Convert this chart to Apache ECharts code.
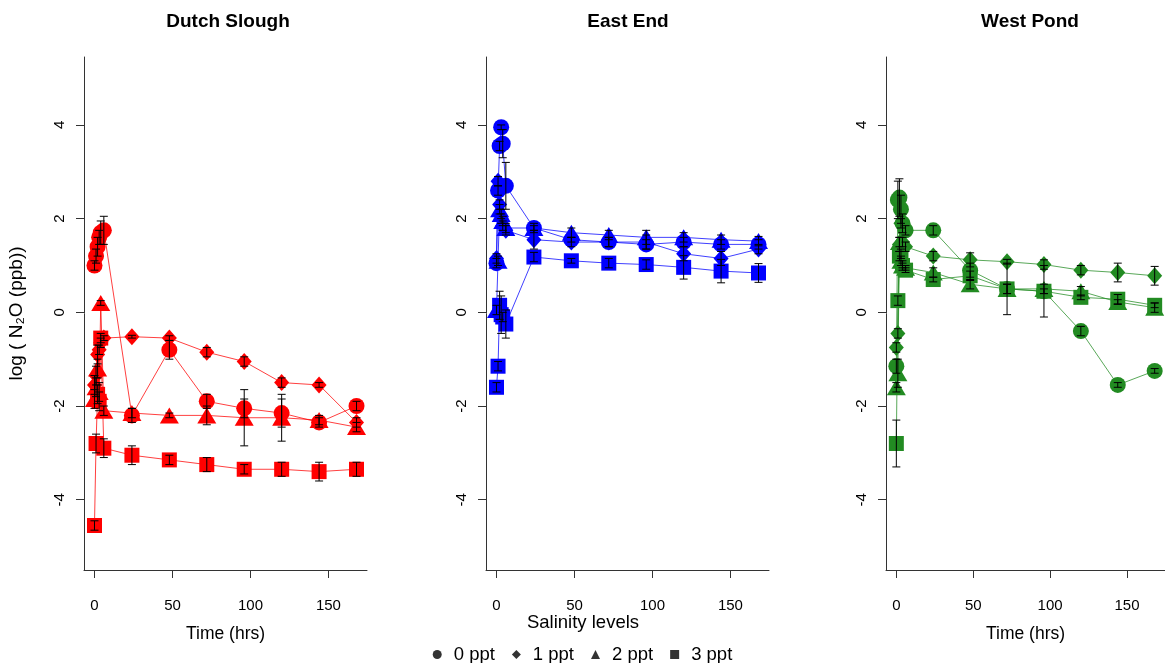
<!DOCTYPE html>
<html>
<head>
<meta charset="utf-8">
<script src="https://cdn.jsdelivr.net/npm/echarts@6/dist/echarts.min.js"></script>
<style>
html,body{margin:0;padding:0;background:#fff;}
#chart{width:1165px;height:663px;}
</style>
</head>
<body>
<div id="chart"></div>
<script>
// ---- data ----
const sites = ["Dutch Slough", "East End", "West Pond"];
const salinity = ["0 ppt", "1 ppt", "2 ppt", "3 ppt"];
const times = [0, 1, 2, 3, 4, 6, 24, 48, 72, 96, 120, 144, 168];
const xTicks = [0, 50, 100, 150];
const yTicks = [-4, -2, 0, 2, 4];

// Dutch Slough: log N2O mean per salinity
const ds0 = [1.0, 1.2, 1.4, 1.6, 1.7, 1.75, -2.2, -0.8, -1.9, -2.05, -2.15, -2.35, -2.0];
const ds1 = [-1.55, -1.35, -0.9, -0.8, -0.65, -0.55, -0.52, -0.55, -0.85, -1.05, -1.5, -1.55, -2.35];
const ds2 = [-1.85, -1.6, -1.2, -1.7, 0.2, -2.1, -2.15, -2.2, -2.2, -2.25, -2.25, -2.3, -2.45];
const ds3 = [-4.55, -2.8, -1.75, -1.9, -0.55, -2.9, -3.05, -3.15, -3.25, -3.35, -3.35, -3.4, -3.35];
const dsE0 = [0.1, 0.15, 0.2, 0.15, 0.25, 0.3, 0.15, 0.2, 0.15, 0.2, 0.3, 0.1, 0.1];
const dsE1 = [0.2, 0.2, 0.2, 0.1, 0.1, 0.05, 0.03, 0.05, 0.1, 0.1, 0.1, 0.05, 0.1];
const dsE2 = [0.2, 0.2, 0.2, 0.2, 0.05, 0.1, 0.1, 0.05, 0.2, 0.6, 0.5, 0.1, 0.1];
const dsE3 = [0.1, 0.2, 0.2, 0.2, 0.1, 0.2, 0.2, 0.1, 0.15, 0.1, 0.15, 0.2, 0.15];

// East End
const ee0 = [1.05, 2.6, 3.55, 3.95, 3.6, 2.7, 1.8, 1.55, 1.5, 1.45, 1.5, 1.45, 1.45];
const ee1 = [1.15, 2.8, 2.3, 2.0, 1.85, 1.75, 1.55, 1.5, 1.5, 1.5, 1.25, 1.15, 1.35];
const ee2 = [0.05, 1.1, 2.2, 2.1, 1.95, 1.8, 1.8, 1.7, 1.65, 1.6, 1.6, 1.55, 1.52];
const ee3 = [-1.6, -1.15, 0.15, -0.05, -0.1, -0.25, 1.18, 1.1, 1.05, 1.02, 0.96, 0.88, 0.84];
const eeE0 = [0.1, 0.1, 0.1, 0.05, 0.3, 0.5, 0.05, 0.05, 0.1, 0.1, 0.1, 0.1, 0.1];
const eeE1 = [0.1, 0.1, 0.1, 0.1, 0.1, 0.1, 0.2, 0.1, 0.1, 0.15, 0.15, 0.15, 0.1];
const eeE2 = [0.1, 0.1, 0.1, 0.1, 0.1, 0.1, 0.1, 0.1, 0.1, 0.15, 0.1, 0.1, 0.1];
const eeE3 = [0.1, 0.1, 0.3, 0.4, 0.1, 0.3, 0.1, 0.05, 0.1, 0.1, 0.25, 0.25, 0.2];

// West Pond
const wp0 = [-1.15, 2.4, 2.45, 2.2, 1.9, 1.75, 1.75, 0.9, 0.5, 0.45, -0.4, -1.55, -1.25];
const wp1 = [-0.75, -0.45, 1.45, 1.9, 1.5, 1.4, 1.2, 1.12, 1.08, 1.02, 0.9, 0.85, 0.78];
const wp2 = [-1.6, -1.3, 1.5, 1.1, 1.0, 0.95, 0.85, 0.6, 0.5, 0.5, 0.45, 0.22, 0.1];
const wp3 = [-2.8, 0.25, 1.2, 1.25, 1.0, 0.9, 0.7, 0.78, 0.5, 0.45, 0.32, 0.28, 0.15];
const wpE0 = [0.15, 0.4, 0.4, 0.3, 0.2, 0.1, 0.1, 0.15, 0.1, 0.55, 0.1, 0.05, 0.05];
const wpE1 = [0.1, 0.1, 0.15, 0.1, 0.1, 0.1, 0.1, 0.15, 0.05, 0.1, 0.1, 0.2, 0.2];
const wpE2 = [0.1, 0.3, 0.1, 0.1, 0.1, 0.05, 0.1, 0.1, 0.55, 0.1, 0.1, 0.05, 0.1];
const wpE3 = [0.5, 0.1, 0.1, 0.1, 0.05, 0.05, 0.05, 0.1, 0.1, 0.05, 0.05, 0.1, 0.05];

const siteValues = [[ds0, ds1, ds2, ds3], [ee0, ee1, ee2, ee3], [wp0, wp1, wp2, wp3]];
const siteErrors = [[dsE0, dsE1, dsE2, dsE3], [eeE0, eeE1, eeE2, eeE3], [wpE0, wpE1, wpE2, wpE3]];
const siteColors = ["#FF0000", "#0000FF", "#228B22"];

// ---- styling ----
const symbols = ["circle", "diamond", "triangle", "rect"];
const symbolSizes = [16, [15, 17], [19, 16], 15];
const legendIcons = ["circle", "diamond", "triangle", "rect"];
const FONT = "Liberation Sans, Arial, sans-serif";

const gridLefts = [84, 486, 886];
const grids = gridLefts.map(l => ({ left: l, top: 57, width: 283, height: 513 }));

const xAxes = gridLefts.map((l, i) => ({
  type: "value", gridIndex: i, min: -6.72, max: 174.72,
  axisLine: { show: true, onZero: false, lineStyle: { color: "#333", width: 1 } },
  axisTick: { show: true, customValues: xTicks, length: 8, lineStyle: { color: "#333" } },
  axisLabel: { customValues: xTicks, fontSize: 15, color: "#000", margin: 28, fontFamily: FONT },
  splitLine: { show: false },
  name: i === 1 ? "" : "Time (hrs)", nameLocation: "middle", nameGap: 55,
  nameTextStyle: { fontSize: 17.5, color: "#000", fontFamily: FONT }
}));

const yAxes = gridLefts.map((l, i) => ({
  type: "value", gridIndex: i, min: -5.5, max: 5.45,
  axisLine: { show: true, onZero: false, lineStyle: { color: "#333", width: 1 } },
  axisTick: { show: true, customValues: yTicks, length: 8, lineStyle: { color: "#333" } },
  axisLabel: { customValues: yTicks, fontSize: 15, color: "#000", rotate: 90, margin: 17, fontFamily: FONT },
  splitLine: { show: false },
  name: i === 0 ? "log ( N\u2082O (ppb))" : "", nameLocation: "middle", nameGap: 58,
  nameTextStyle: { fontSize: 19, color: "#000", fontFamily: FONT }
}));

function errRender(params, api) {
  const x = api.value(0), y = api.value(1), e = api.value(2);
  const top = api.coord([x, y + e]);
  const bot = api.coord([x, y - e]);
  const w = 4;
  const st = { stroke: "#000", lineWidth: 1 };
  return {
    type: "group",
    children: [
      { type: "line", shape: { x1: top[0], y1: top[1], x2: bot[0], y2: bot[1] }, style: st },
      { type: "line", shape: { x1: top[0] - w, y1: top[1], x2: top[0] + w, y2: top[1] }, style: st },
      { type: "line", shape: { x1: bot[0] - w, y1: bot[1], x2: bot[0] + w, y2: bot[1] }, style: st }
    ]
  };
}

const series = [];
sites.forEach((site, si) => {
  salinity.forEach((sal, k) => {
    const vals = siteValues[si][k];
    series.push({
      type: "line", name: site + " " + sal, xAxisIndex: si, yAxisIndex: si,
      data: times.map((t, j) => [t, vals[j]]),
      symbol: symbols[k], symbolSize: symbolSizes[k], showSymbol: true,
      itemStyle: { color: siteColors[si], opacity: 1 },
      lineStyle: { color: siteColors[si], width: 1, opacity: 0.75 },
      emphasis: { disabled: true }, z: 2
    });
  });
  salinity.forEach((sal, k) => {
    const vals = siteValues[si][k];
    const errs = siteErrors[si][k];
    series.push({
      type: "custom", name: site + " err " + sal, xAxisIndex: si, yAxisIndex: si,
      data: times.map((t, j) => [t, vals[j], errs[j]]),
      renderItem: errRender, z: 3, silent: true
    });
  });
});
// legend entries (black symbols)
salinity.forEach((sal, k) => {
  series.push({
    type: "scatter", name: sal, xAxisIndex: 0, yAxisIndex: 0, data: [],
    symbol: symbols[k], itemStyle: { color: "#000" }
  });
});

const titleStyle = { fontSize: 19, fontWeight: "bold", color: "#000", fontFamily: FONT };
const chart = echarts.init(document.getElementById("chart"), null, { renderer: "canvas" });
chart.setOption({
  animation: false,
  backgroundColor: "#fff",
  textStyle: { fontFamily: FONT },
  title: [
    { text: sites[0], left: 228, top: 12, padding: 0, textAlign: "center", textStyle: titleStyle },
    { text: sites[1], left: 628, top: 12, padding: 0, textAlign: "center", textStyle: titleStyle },
    { text: sites[2], left: 1030, top: 12, padding: 0, textAlign: "center", textStyle: titleStyle },
    { text: "Salinity levels", left: 583, top: 613, padding: 0, textAlign: "center", textStyle: { fontSize: 18.5, fontWeight: "normal", color: "#000", fontFamily: FONT } }
  ],
  legend: {
    left: "center", top: 640, orient: "horizontal",
    itemWidth: 9, itemHeight: 9, itemGap: 17,
    selectedMode: false,
    textStyle: { fontSize: 18.5, color: "#000", fontFamily: FONT, padding: [0, 0, 0, 7] },
    data: salinity.map((s, k) => ({ name: s, icon: legendIcons[k], itemStyle: { color: "#000" } }))
  },
  grid: grids,
  xAxis: xAxes,
  yAxis: yAxes,
  series: series
});
</script>
</body>
</html>
